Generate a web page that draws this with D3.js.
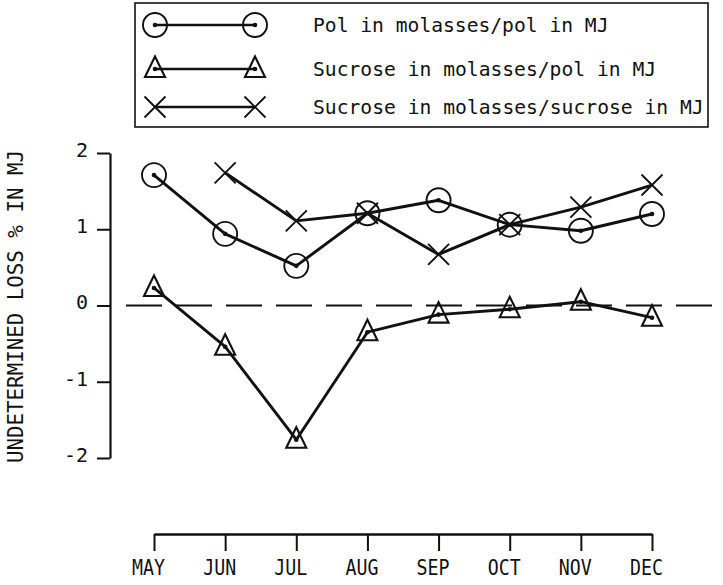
<!DOCTYPE html>
<html>
<head>
<meta charset="utf-8">
<script src="https://cdn.jsdelivr.net/npm/d3@7"></script>
<style>
  html, body { margin: 0; padding: 0; background: #fff; }
  svg { display: block; }
  text { font-family: "DejaVu Sans Mono", "Liberation Mono", monospace; fill: #111; }
</style>
</head>
<body>
<svg id="chart" width="723" height="585"></svg>
<script>
// ---- data ----
const months = ["MAY", "JUN", "JUL", "AUG", "SEP", "OCT", "NOV", "DEC"];
const polInMolassesPerPolInMJ = [1.71, 0.94, 0.52, 1.21, 1.38, 1.06, 0.98, 1.20];
const sucroseInMolassesPerPolInMJ = [0.23, -0.54, -1.76, -0.35, -0.12, -0.05, 0.05, -0.16];
const sucroseInMolassesPerSucroseInMJ = [null, 1.74, 1.11, 1.21, 0.67, 1.06, 1.29, 1.58];
const yTicks = [-2, -1, 0, 1, 2];
const seriesNames = ["Pol in molasses/pol in MJ", "Sucrose in molasses/pol in MJ", "Sucrose in molasses/sucrose in MJ"];
const yTitle = "UNDETERMINED LOSS % IN MJ";

// ---- layout ----
const svg = d3.select("#chart");
const ink = "#111";
const x = d3.scalePoint().domain(months).range([154, 652]);
const y = d3.scaleLinear().domain([-2, 2]).range([458, 153]);

// y axis
const yAxis = svg.append("g").attr("transform", "translate(110,0)")
  .call(d3.axisLeft(y).tickValues(yTicks).tickSize(13).tickSizeOuter(0).tickFormat(d3.format("d")));
yAxis.select(".domain").attr("stroke", ink).attr("stroke-width", 2.2);
yAxis.selectAll(".tick line").attr("stroke", ink).attr("stroke-width", 2);
yAxis.selectAll(".tick text")
  .attr("x", -22).attr("dy", "0.32em").attr("y", -3)
  .attr("font-size", 20).attr("font-family", "DejaVu Sans Mono").attr("fill", ink)
  .text(d => d < 0 ? "-" + Math.abs(d) : d);

// x axis
const xAxis = svg.append("g").attr("transform", "translate(0,534)")
  .call(d3.axisBottom(x).tickSize(17).tickSizeOuter(0));
xAxis.select(".domain").attr("stroke", ink).attr("stroke-width", 2.4);
xAxis.selectAll(".tick line").attr("stroke", ink).attr("stroke-width", 2);
xAxis.selectAll(".tick text")
  .attr("y", 41).attr("dy", 0).attr("x", -6)
  .attr("font-size", 22).attr("font-family", "DejaVu Sans Mono").attr("fill", ink)
  .attr("textLength", 33).attr("lengthAdjust", "spacingAndGlyphs");

// y title
svg.append("text")
  .attr("transform", `translate(23,${(150 + 463) / 2}) rotate(-90)`)
  .attr("text-anchor", "middle")
  .attr("font-size", 21)
  .attr("textLength", 313).attr("lengthAdjust", "spacingAndGlyphs")
  .text(yTitle);

// zero dashed line
svg.append("line")
  .attr("x1", 126).attr("x2", 712)
  .attr("y1", y(0)).attr("y2", y(0))
  .attr("stroke", ink).attr("stroke-width", 2)
  .attr("stroke-dasharray", "36,14");

// ---- marker painters ----
function circleMarker(g, cx, cy) {
  g.append("circle").attr("cx", cx).attr("cy", cy).attr("r", 12)
    .attr("fill", "none").attr("stroke", ink).attr("stroke-width", 1.9);
  g.append("circle").attr("cx", cx).attr("cy", cy).attr("r", 2.3).attr("fill", ink);
}
function triangleMarker(g, cx, cy) {
  g.append("path")
    .attr("d", `M${cx},${cy - 12.5} L${cx + 10},${cy + 8} L${cx - 10},${cy + 8} Z`)
    .attr("fill", "none").attr("stroke", ink).attr("stroke-width", 2.1).attr("stroke-linejoin", "miter");
  g.append("circle").attr("cx", cx).attr("cy", cy).attr("r", 2.3).attr("fill", ink);
}
function crossMarker(g, cx, cy) {
  const s = 10.5;
  g.append("path")
    .attr("d", `M${cx - s},${cy - s} L${cx + s},${cy + s} M${cx - s},${cy + s} L${cx + s},${cy - s}`)
    .attr("fill", "none").attr("stroke", ink).attr("stroke-width", 1.9);
}

const series = [
  { name: seriesNames[0], values: polInMolassesPerPolInMJ, marker: circleMarker },
  { name: seriesNames[1], values: sucroseInMolassesPerPolInMJ, marker: triangleMarker },
  { name: seriesNames[2], values: sucroseInMolassesPerSucroseInMJ, marker: crossMarker }
];

const line = d3.line()
  .defined(d => d.v !== null)
  .x(d => x(d.m)).y(d => y(d.v));

series.forEach(s => {
  const pts = months.map((m, i) => ({ m, v: s.values[i] }));
  const g = svg.append("g");
  g.append("path").datum(pts).attr("d", line)
    .attr("fill", "none").attr("stroke", ink).attr("stroke-width", 2.9)
    .attr("stroke-linejoin", "round");
  pts.filter(p => p.v !== null).forEach(p => s.marker(g, x(p.m), y(p.v)));
});

// ---- legend ----
const lg = svg.append("g");
lg.append("rect").attr("x", 135).attr("y", 3).attr("width", 573).attr("height", 124)
  .attr("fill", "none").attr("stroke", ink).attr("stroke-width", 1.6);
const rowsY = [25, 69, 107];
series.forEach((s, i) => {
  const ry = rowsY[i];
  const x1 = 155, x2 = 255;
  lg.append("line").attr("x1", x1).attr("x2", x2).attr("y1", ry).attr("y2", ry)
    .attr("stroke", ink).attr("stroke-width", 2.6);
  s.marker(lg, x1, ry);
  s.marker(lg, x2, ry);
  lg.append("text").attr("x", 313).attr("y", ry + 6.5)
    .attr("font-size", 20)
    .attr("textLength", s.name.length * 11.9 - 2).attr("lengthAdjust", "spacingAndGlyphs")
    .text(s.name);
});
</script>
</body>
</html>
